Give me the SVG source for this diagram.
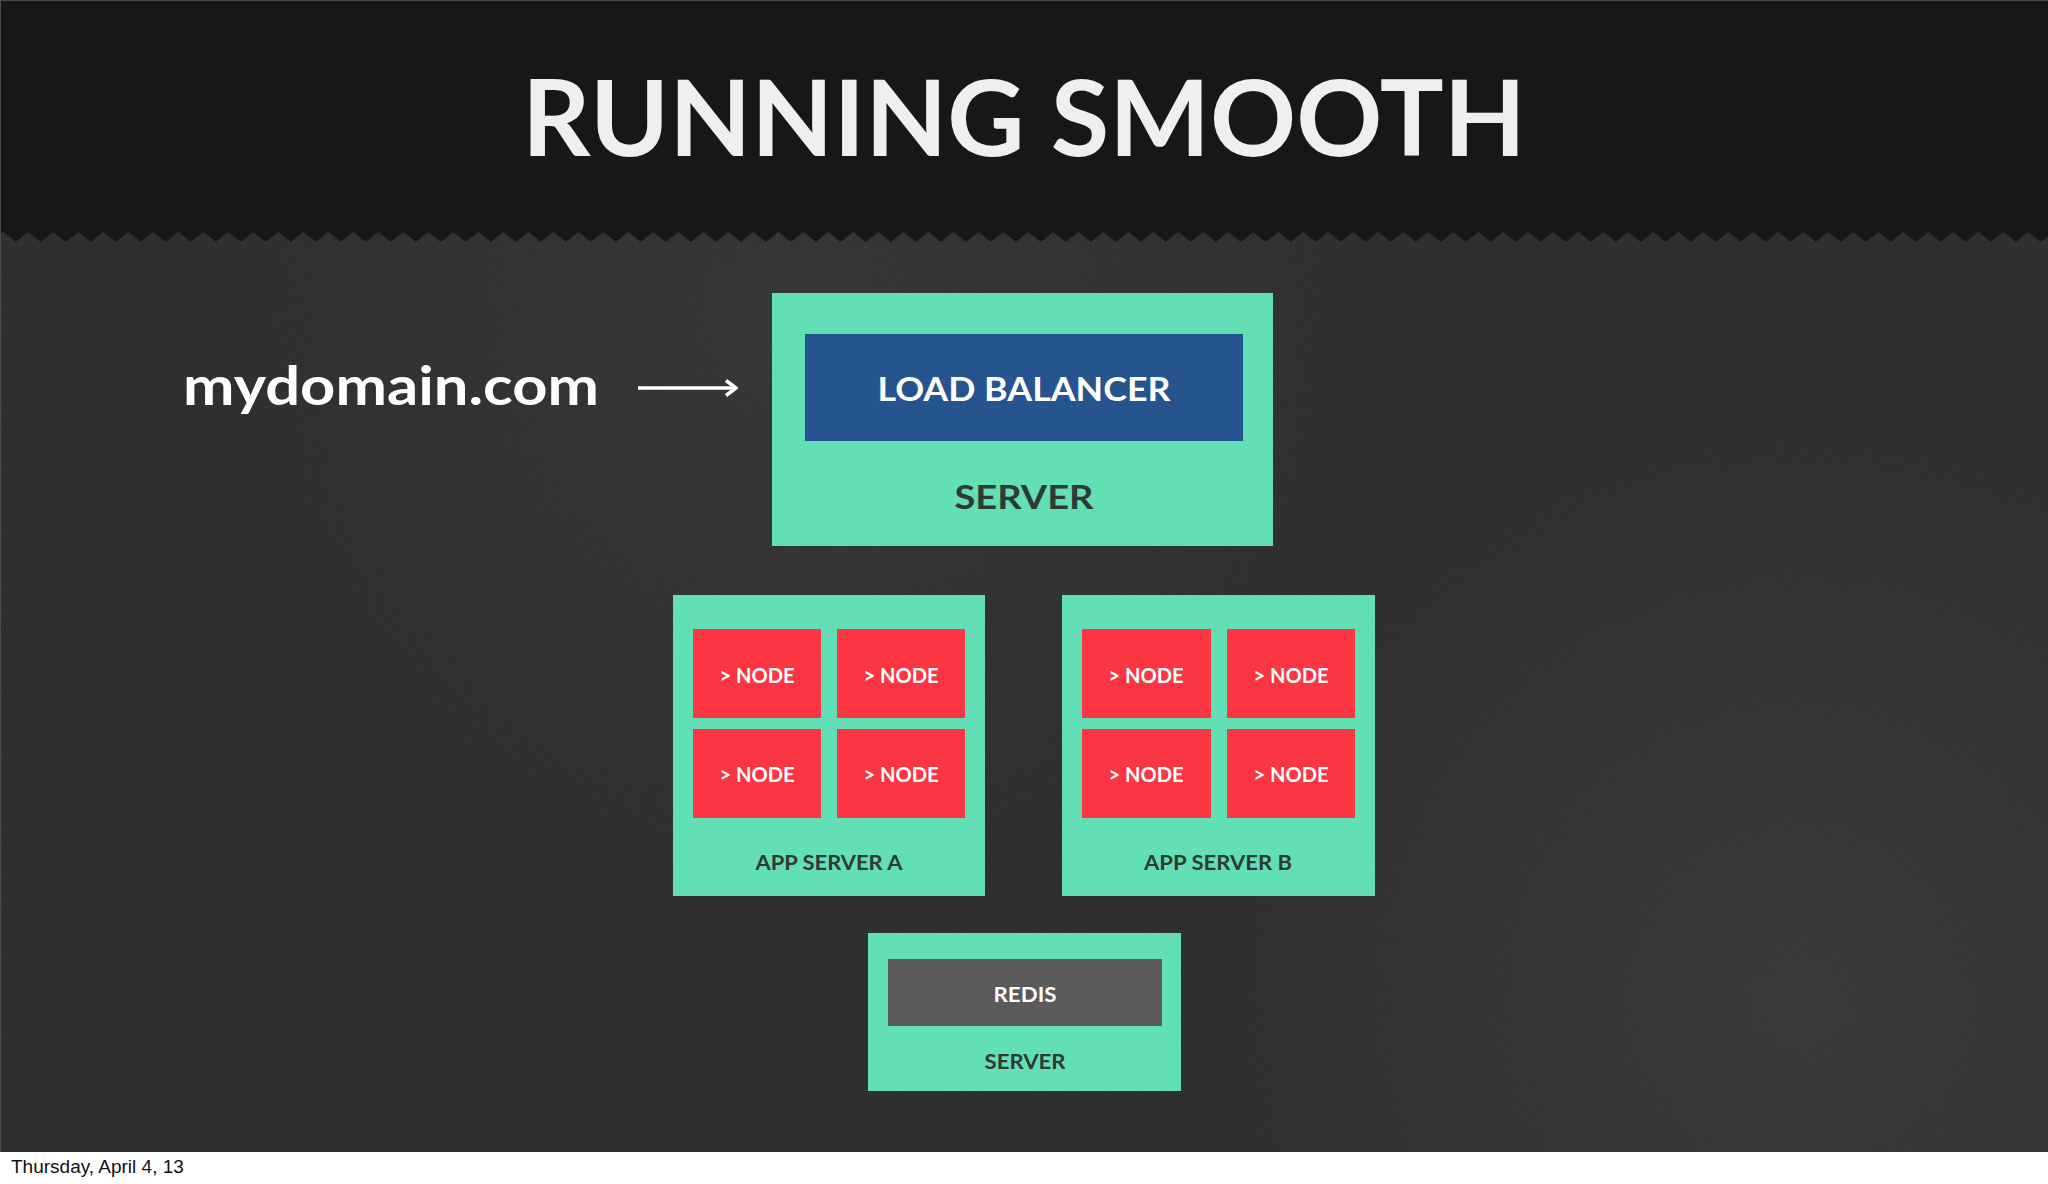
<svg xmlns="http://www.w3.org/2000/svg" width="2048" height="1184" viewBox="0 0 2048 1184">
  <defs>
    <style>
      .srv { fill: #63dfb5; }
      .node { fill: #fc3542; }
      .ntxt { font-family: Lato, "Liberation Sans", sans-serif; font-weight: 700; fill: #ffffff; text-anchor: middle; }
      .lbl { font-family: Lato, "Liberation Sans", sans-serif; font-weight: 700; fill: #2e3a36; text-anchor: middle; }
    </style>
    <pattern id="zig" patternUnits="userSpaceOnUse" x="3.3" y="232" width="25" height="10">
      <polygon points="0,0 25,0 12.5,10" fill="#171717"/>
    </pattern>
    <radialGradient id="glowBR" cx="1800" cy="1000" r="600" gradientUnits="userSpaceOnUse">
      <stop offset="0" stop-color="#4a4a4a" stop-opacity="0.35"/>
      <stop offset="1" stop-color="#4a4a4a" stop-opacity="0"/>
    </radialGradient>
    <radialGradient id="glowT" cx="800" cy="320" r="600" gradientUnits="userSpaceOnUse">
      <stop offset="0" stop-color="#404040" stop-opacity="0.3"/>
      <stop offset="1" stop-color="#404040" stop-opacity="0"/>
    </radialGradient>
    <filter id="noise" x="0" y="0" width="100%" height="100%">
      <feTurbulence type="fractalNoise" baseFrequency="0.9" numOctaves="2" seed="3"/>
      <feColorMatrix type="matrix" values="0 0 0 0 1  0 0 0 0 1  0 0 0 0 1  0 0 0 0.07 0"/>
    </filter>
    <marker id="arrow" viewBox="0 0 20 18" refX="18" refY="9" markerWidth="20" markerHeight="18" markerUnits="userSpaceOnUse" orient="auto">
      <polyline points="8,1.5 18,9 8,16.5" fill="none" stroke="#ffffff" stroke-width="3.5"/>
    </marker>
  </defs>

  <!-- background -->
  <rect x="0" y="0" width="2048" height="1152" fill="#282828"/>
  <rect x="0" y="232" width="2048" height="920" fill="url(#glowT)"/>
  <rect x="0" y="232" width="2048" height="920" fill="url(#glowBR)"/>
  <rect x="0" y="232" width="2048" height="920" filter="url(#noise)"/>
  <rect x="0" y="0" width="2048" height="232" fill="#171717"/>
  <rect x="0" y="232" width="2048" height="10" fill="url(#zig)"/>
  <line x1="0" y1="0.5" x2="2048" y2="0.5" stroke="#4a4a4a" stroke-width="1"/>
  <line x1="0.5" y1="0" x2="0.5" y2="1152" stroke="#4a4a4a" stroke-width="1"/>

  <!-- footer -->
  <rect x="0" y="1152" width="2048" height="32" fill="#ffffff"/>
  <text x="11" y="1173" font-family="'Liberation Sans', Arial, sans-serif" font-size="19" fill="#111111">Thursday, April 4, 13</text>

  <!-- title -->
  <text x="1024" y="156" text-anchor="middle" font-family="Lato, 'Liberation Sans', sans-serif" font-weight="700" font-size="106" fill="#efefef" textLength="1004" lengthAdjust="spacingAndGlyphs">RUNNING SMOOTH</text>

  <!-- domain -->
  <g id="domain">
    <text x="183" y="405" font-family="Lato, 'Liberation Sans', sans-serif" font-weight="700" font-size="54" fill="#ffffff" textLength="416" lengthAdjust="spacingAndGlyphs">mydomain.com</text>
  </g>

  <!-- connectors -->
  <g id="connectors">
    <line x1="638" y1="388" x2="736" y2="388" stroke="#ffffff" stroke-width="3.5" marker-end="url(#arrow)"/>
  </g>

  <!-- load balancer server -->
  <g id="lb-server">
    <rect class="srv" x="772" y="293" width="501" height="253"/>
    <rect x="805" y="334" width="438" height="107" fill="#26548f"/>
    <text x="1024" y="401" class="ntxt" font-size="33" textLength="293" lengthAdjust="spacingAndGlyphs">LOAD BALANCER</text>
    <text x="1024" y="509" class="lbl" font-size="32" textLength="139" lengthAdjust="spacingAndGlyphs">SERVER</text>
  </g>

  <!-- app server A -->
  <g id="app-server-a">
    <rect class="srv" x="673" y="595" width="312" height="301"/>
    <g id="a-node-1"><rect class="node" x="693" y="629" width="128" height="89"/><text class="ntxt" font-size="20" x="757" y="683" textLength="75" lengthAdjust="spacingAndGlyphs">&gt; NODE</text></g>
    <g id="a-node-2"><rect class="node" x="837" y="629" width="128" height="89"/><text class="ntxt" font-size="20" x="901" y="683" textLength="75" lengthAdjust="spacingAndGlyphs">&gt; NODE</text></g>
    <g id="a-node-3"><rect class="node" x="693" y="729" width="128" height="89"/><text class="ntxt" font-size="20" x="757" y="782" textLength="75" lengthAdjust="spacingAndGlyphs">&gt; NODE</text></g>
    <g id="a-node-4"><rect class="node" x="837" y="729" width="128" height="89"/><text class="ntxt" font-size="20" x="901" y="782" textLength="75" lengthAdjust="spacingAndGlyphs">&gt; NODE</text></g>
    <text class="lbl" x="829" y="870" font-size="21" textLength="147" lengthAdjust="spacingAndGlyphs">APP SERVER A</text>
  </g>

  <!-- app server B -->
  <g id="app-server-b">
    <rect class="srv" x="1062" y="595" width="313" height="301"/>
    <g id="b-node-1"><rect class="node" x="1082" y="629" width="129" height="89"/><text class="ntxt" font-size="20" x="1146" y="683" textLength="75" lengthAdjust="spacingAndGlyphs">&gt; NODE</text></g>
    <g id="b-node-2"><rect class="node" x="1227" y="629" width="128" height="89"/><text class="ntxt" font-size="20" x="1291" y="683" textLength="75" lengthAdjust="spacingAndGlyphs">&gt; NODE</text></g>
    <g id="b-node-3"><rect class="node" x="1082" y="729" width="129" height="89"/><text class="ntxt" font-size="20" x="1146" y="782" textLength="75" lengthAdjust="spacingAndGlyphs">&gt; NODE</text></g>
    <g id="b-node-4"><rect class="node" x="1227" y="729" width="128" height="89"/><text class="ntxt" font-size="20" x="1291" y="782" textLength="75" lengthAdjust="spacingAndGlyphs">&gt; NODE</text></g>
    <text class="lbl" x="1218" y="870" font-size="21" textLength="148" lengthAdjust="spacingAndGlyphs">APP SERVER B</text>
  </g>

  <!-- redis server -->
  <g id="redis-server">
    <rect class="srv" x="868" y="933" width="313" height="158"/>
    <rect x="888" y="959" width="274" height="67" fill="#5b5a5b"/>
    <text class="ntxt" font-size="20" x="1025" y="1002" textLength="63" lengthAdjust="spacingAndGlyphs">REDIS</text>
    <text class="lbl" x="1025" y="1069" font-size="20" textLength="81" lengthAdjust="spacingAndGlyphs">SERVER</text>
  </g>
</svg>
